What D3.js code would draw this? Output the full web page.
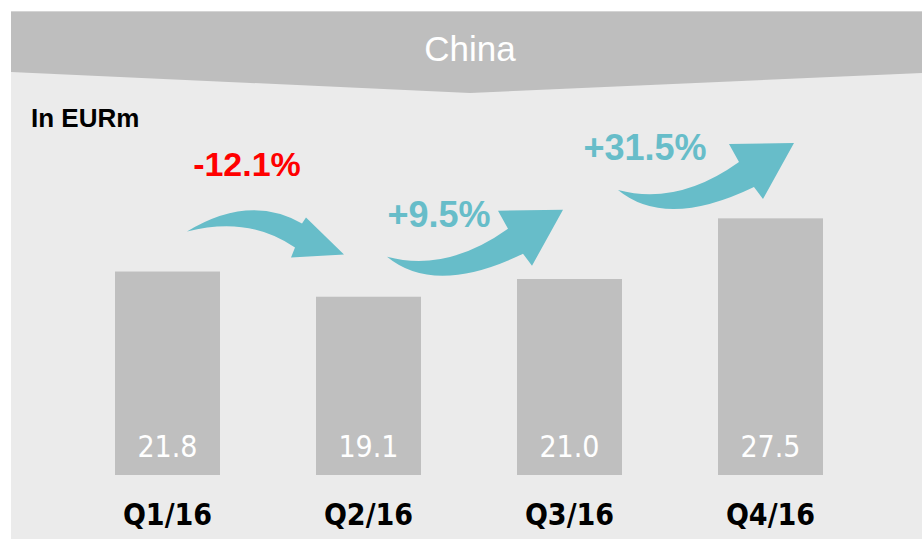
<!doctype html>
<html lang="en">
<head>
	<meta charset="utf-8" />
	<title>China</title>
	<style>
		body { margin: 0; background: #fff; }
		svg { display: block; }
		.title { font: 35px "Liberation Sans", Arial, sans-serif; fill: #fff; }
		.unit { font: bold 26px "Liberation Sans", Arial, sans-serif; fill: #000; }
		.val { font: 30px "DejaVu Sans Condensed", "DejaVu Sans", sans-serif; font-stretch: condensed; fill: #fff; }
		.cat { font: bold 30px "DejaVu Sans Condensed", "DejaVu Sans", sans-serif; font-stretch: condensed; fill: #000; }
		.pct { font-family: "Liberation Sans", Arial, sans-serif; font-weight: bold; }
	</style>
</head>
<body>
	<svg width="922" height="539"></svg>

	<script src="https://cdn.jsdelivr.net/npm/d3@7"></script>
	<script>
		// data
		var quarters = ["Q1/16", "Q2/16", "Q3/16", "Q4/16"];
		var sales = [21.8, 19.1, 21.0, 27.5];
		var changes = ["-12.1%", "+9.5%", "+31.5%"];

		var svg = d3.select("svg"),
			width = +svg.attr("width"),
			height = +svg.attr("height");

		var teal = "#67bdc9";

		// panel + header band with the shallow chevron
		svg.append("rect")
			.attr("x", 11).attr("y", 11)
			.attr("width", width - 11).attr("height", height - 11)
			.style("fill", "#ebebeb");

		svg.append("path")
			.attr("d", "M11,11 L922,11 L922,73 L470,93 L11,72 Z")
			.style("fill", "#bebebe");
		svg.append("line")
			.attr("x1", 11).attr("x2", width).attr("y1", 11.5).attr("y2", 11.5)
			.style("stroke", "#d4d4d4");

		svg.append("text").attr("class", "title")
			.attr("x", 470).attr("y", 61)
			.attr("text-anchor", "middle")
			.text("China");

		svg.append("text").attr("class", "unit")
			.attr("x", 31).attr("y", 127)
			.text("In EURm");

		var x = d3.scaleBand()
			.domain(quarters)
			.range([115, 823])
			.paddingInner(0.4776)
			.paddingOuter(0);

		var y = d3.scaleLinear()
			.domain([0, 30])
			.range([475, 195]);

		var g = svg.append("g");

		g.selectAll("rect.bar")
			.data(quarters)
			.enter().append("rect")
			.attr("class", "bar")
			.attr("x", function (d) { return x(d); })
			.attr("width", x.bandwidth())
			.attr("y", function (d, i) { return y(sales[i]); })
			.attr("height", function (d, i) { return y(0) - y(sales[i]); })
			.style("fill", "#bfbfbf");

		g.selectAll("text.val")
			.data(quarters)
			.enter().append("text")
			.attr("class", "val")
			.attr("x", function (d) { return x(d) + x.bandwidth() / 2; })
			.attr("y", y(0) - 18)
			.attr("text-anchor", "middle")
			.text(function (d, i) { return sales[i].toFixed(1); });

		g.selectAll("text.cat")
			.data(quarters)
			.enter().append("text")
			.attr("class", "cat")
			.attr("x", function (d) { return x(d) + x.bandwidth() / 2; })
			.attr("y", 525)
			.attr("text-anchor", "middle")
			.text(function (d) { return d; });

		// curved block arrows, local coords with the tail at 0,0
		var arrowDown = "M0,0 Q62.5,-38 115,-8 L119,-14 L157,23 L104,26 L108,16 Q62,-16 0,0 Z";
		var arrowUp = "M0,0 Q59.5,16 121,-28 L111,-46 L176,-47 L145,9 L136,-3 Q48,39.5 0,0 Z";

		// where each arrow sits, measured from the bar it leaves
		var arrowDx = [19.5, 18.5, 48.5];
		var arrowDy = [-40, -40, -89];
		var labelDx = [60, 52, 27];
		var labelDy = [-56, -30, -30];
		var labelSize = [34, 36, 36];

		changes.forEach(function (c, i) {
			var q = quarters[i];
			var tx = x(q) + x.bandwidth() / 2 + arrowDx[i];
			var ty = y(sales[i]) + arrowDy[i];
			var down = c.charAt(0) == "-";

			g.append("path")
				.attr("transform", "translate(" + tx + "," + ty + ")")
				.attr("d", down ? arrowDown : arrowUp)
				.style("fill", teal);

			g.append("text")
				.attr("class", "pct")
				.attr("x", tx + labelDx[i])
				.attr("y", ty + labelDy[i])
				.attr("text-anchor", "middle")
				.style("font-size", labelSize[i] + "px")
				.style("fill", down ? "#ff0000" : teal)
				.text(c);
		});
	</script>
</body>
</html>
